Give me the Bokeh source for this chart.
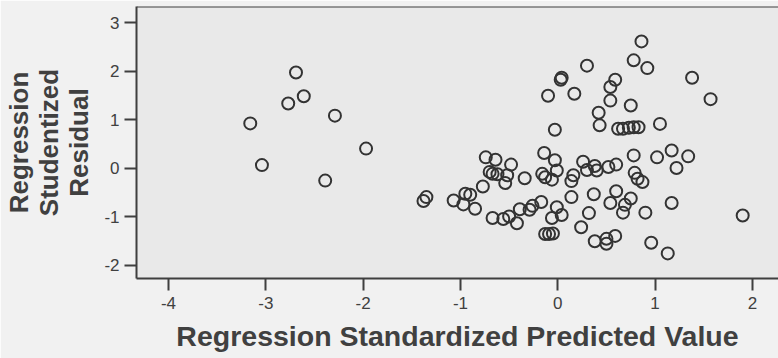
from bokeh.plotting import figure
from bokeh.models import FixedTicker, Span, ColumnDataSource, Range1d
from bokeh.embed import file_html
from bokeh.resources import INLINE

# Regression standardized predicted value (x) and studentized residual (y)
pred = [-3.16, -3.04, -2.77, -2.69, -2.61, -2.39, -2.29, -1.97,
        -1.38, -1.35, -1.07, -0.95, -0.90, -0.97, -0.85, -0.77,
        -0.74, -0.64, -0.70, -0.67, -0.62, -0.48, -0.52, -0.54,
        -0.67, -0.56, -0.50, -0.42, -0.39, -0.34, -0.29, -0.26,
        -0.17, -0.16, -0.13, -0.06, -0.14, -0.03, -0.01, -0.03,
        -0.10, 0.03, 0.04, 0.17, 0.30, -0.01, -0.06, 0.04,
        -0.13, -0.09, -0.05, 0.14, 0.16, 0.14, 0.26, 0.30,
        0.38, 0.40, 0.52, 0.60, 0.78, 0.79, 0.82, 0.87,
        0.37, 0.32, 0.24, 0.38, 0.50, 0.50, 0.59, 0.54,
        0.60, 0.67, 0.69, 0.75, 0.90, 1.17, 0.96, 1.13,
        1.90, 0.54, 0.59, 0.54, 0.42, 0.43, 0.75, 0.78,
        0.86, 0.92, 1.38, 1.57, 1.05, 0.62, 0.67, 0.73,
        0.78, 0.83, 1.02, 1.17, 1.34, 1.22]
resid = [0.92, 0.06, 1.33, 1.97, 1.48, -0.26, 1.08, 0.40,
         -0.68, -0.60, -0.67, -0.53, -0.55, -0.75, -0.84, -0.38,
         0.22, 0.17, -0.08, -0.12, -0.13, 0.07, -0.15, -0.31,
         -1.03, -1.05, -1.00, -1.14, -0.85, -0.21, -0.86, -0.78,
         -0.70, -0.12, -0.19, -0.24, 0.31, 0.16, -0.05, 0.79,
         1.49, 1.82, 1.86, 1.53, 2.11, -0.81, -1.03, -0.97,
         -1.36, -1.36, -1.35, -0.60, -0.15, -0.27, 0.13, -0.04,
         0.04, -0.05, 0.02, 0.07, 0.26, -0.10, -0.22, -0.29,
         -0.54, -0.93, -1.22, -1.51, -1.46, -1.56, -1.40, -0.72,
         -0.48, -0.92, -0.76, -0.63, -0.92, -0.72, -1.54, -1.76,
         -0.98, 1.67, 1.82, 1.39, 1.14, 0.88, 1.29, 2.22,
         2.61, 2.06, 1.86, 1.42, 0.91, 0.81, 0.81, 0.83,
         0.84, 0.84, 0.22, 0.36, 0.24, 0.00]

x_ticks = [-4, -3, -2, -1, 0, 1, 2]
y_ticks = [-2, -1, 0, 1, 2, 3]
x_title = "Regression Standardized Predicted Value"
y_title = "Regression\nStudentized\nResidual"

FONT = "Liberation Sans"
DARK = "#3f3f3f"
TEXT = "#404040"
Y_TOP = 3.33

p = figure(width=778, height=358, output_backend="svg", toolbar_location=None,
           x_range=Range1d(-4.329, 2.268), y_range=Range1d(-2.278, Y_TOP),
           min_border_left=136, min_border_right=0, min_border_top=6,
           min_border_bottom=80)
p.background_fill_color = "#e9e9e9"
p.border_fill_color = "#f1f1f1"
p.outline_line_color = None
p.grid.visible = False

src = ColumnDataSource(dict(x=pred, y=resid))
p.scatter("x", "y", source=src, marker="circle", size=12, fill_color=None,
          line_color="#333333", line_width=2)

for ax, ticks in ((p.xaxis[0], x_ticks), (p.yaxis[0], y_ticks)):
    ax.ticker = FixedTicker(ticks=ticks)
    ax.major_label_overrides = {t: str(t) for t in ticks}
    ax.minor_tick_line_color = None
    ax.major_tick_in = 0
    ax.major_tick_out = 12
    ax.major_tick_line_width = 2
    ax.major_tick_line_color = DARK
    ax.axis_line_width = 2
    ax.axis_line_color = DARK
    ax.major_label_text_font = FONT
    ax.major_label_text_font_size = "17px"
    ax.major_label_text_color = TEXT
    ax.axis_label_text_font = FONT
    ax.axis_label_text_font_style = "bold"
    ax.axis_label_text_color = TEXT
p.xaxis.axis_label_text_font_size = "28.5px"
p.yaxis.axis_label_text_font_size = "26px"
p.yaxis.axis_label_text_line_height = 1.0
p.xaxis.axis_label_text_line_height = 1.0
p.xaxis.major_label_standoff = 6
p.yaxis.major_label_standoff = 5
p.xaxis.axis_label = x_title
p.yaxis.axis_label = y_title
p.xaxis.axis_label_standoff = 8
p.yaxis.axis_label_standoff = 7

p.add_layout(Span(location=Y_TOP, dimension="width", line_color=DARK, line_width=2))

open("out.html", "w").write(file_html(p, INLINE))
